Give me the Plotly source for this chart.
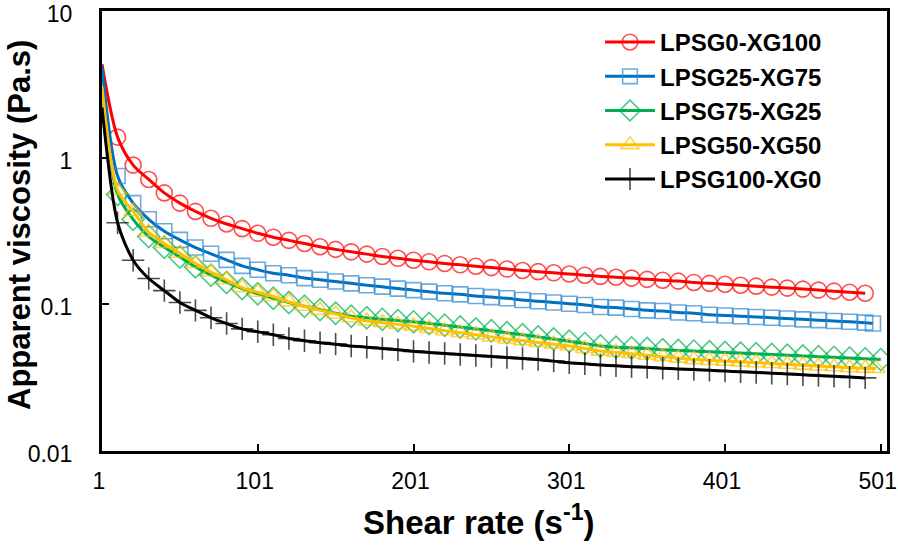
import plotly.graph_objects as go

# shear rate (s-1) at each measured point
x_common = [1, 11, 21, 31, 41, 51, 61, 71, 81, 91, 101, 111, 121, 131, 141, 151,
            161, 171, 181, 191, 201, 211, 221, 231, 241, 251, 261, 271, 281, 291,
            301, 311, 321, 331, 341, 351, 361, 371, 381, 391, 401, 411, 421, 431,
            441, 451, 461, 471, 481, 491]

# apparent viscosity (Pa.s)
lpsg0_xg100 = [4.33, 1.38, 0.89, 0.71, 0.575, 0.49, 0.43, 0.386, 0.353, 0.328,
               0.305, 0.287, 0.273, 0.26, 0.247, 0.237, 0.228, 0.22, 0.212, 0.206,
               0.2, 0.195, 0.19, 0.186, 0.182, 0.178, 0.174, 0.17, 0.167, 0.164,
               0.161, 0.158, 0.155, 0.153, 0.151, 0.148, 0.146, 0.144, 0.141, 0.139,
               0.137, 0.135, 0.133, 0.131, 0.129, 0.127, 0.125, 0.123, 0.121, 0.119]

lpsg25_xg75 = [4.17, 0.75, 0.49, 0.38, 0.315, 0.275, 0.244, 0.221, 0.201, 0.183,
               0.172, 0.163, 0.158, 0.151, 0.147, 0.143, 0.139, 0.135, 0.132, 0.128,
               0.125, 0.122, 0.119, 0.117, 0.114, 0.112, 0.11, 0.107, 0.105, 0.103,
               0.101, 0.099, 0.096, 0.095, 0.093, 0.091, 0.09, 0.088, 0.087, 0.085,
               0.084, 0.083, 0.082, 0.081, 0.08, 0.079, 0.078, 0.077, 0.076, 0.075,
               0.074]
x_lpsg25 = x_common + [496]

lpsg75_xg25 = [2.9, 0.56, 0.38, 0.29, 0.245, 0.21, 0.18, 0.158, 0.141, 0.128,
               0.118, 0.11, 0.103, 0.097, 0.092, 0.087, 0.083, 0.081, 0.079, 0.0775,
               0.076, 0.074, 0.072, 0.07, 0.068, 0.066, 0.064, 0.062, 0.06, 0.058,
               0.056, 0.054, 0.052, 0.051, 0.0505, 0.05, 0.049, 0.0485, 0.048, 0.0475,
               0.047, 0.0465, 0.046, 0.0455, 0.045, 0.0445, 0.044, 0.0435, 0.043, 0.0425,
               0.042]
x_lpsg75 = x_common + [501]

lpsg50_xg50 = [3.05, 0.6, 0.43, 0.31, 0.26, 0.223, 0.19, 0.166, 0.147, 0.13,
               0.121, 0.113, 0.104, 0.097, 0.091, 0.086, 0.081, 0.077, 0.075, 0.073,
               0.071, 0.0685, 0.066, 0.064, 0.062, 0.06, 0.058, 0.0565, 0.055, 0.0535,
               0.052, 0.05, 0.048, 0.047, 0.046, 0.045, 0.044, 0.043, 0.042, 0.0415,
               0.041, 0.0405, 0.04, 0.0395, 0.039, 0.0385, 0.038, 0.0375, 0.037, 0.0367,
               0.0365]
x_lpsg50 = x_common + [498]

lpsg100_xg0 = [2.2, 0.36, 0.2, 0.15, 0.124, 0.103, 0.091, 0.081, 0.074, 0.068,
               0.065, 0.062, 0.0585, 0.0565, 0.0548, 0.0535, 0.052, 0.051, 0.05, 0.049,
               0.0478, 0.047, 0.0462, 0.0455, 0.0448, 0.0441, 0.0434, 0.0427, 0.042, 0.041,
               0.04, 0.0393, 0.0386, 0.0381, 0.0376, 0.0372, 0.0367, 0.0363, 0.0359, 0.0355,
               0.0351, 0.0347, 0.0343, 0.0339, 0.0335, 0.0331, 0.0327, 0.0323, 0.0319, 0.0315]

x_ticks = [1, 101, 201, 301, 401, 501]
y_ticks = [0.01, 0.1, 1, 10]
y_ticktext = ["0.01", "0.1", "1", "10"]

series = [
    ("LPSG0-XG100", x_common, lpsg0_xg100, "#FF0000", "circle-open", "#FF0000", 16),
    ("LPSG25-XG75", x_lpsg25, lpsg25_xg75, "#0070C0", "square-open", "#2E88D0", 15),
    ("LPSG75-XG25", x_lpsg75, lpsg75_xg25, "#00B050", "diamond-open", "#00B050", 17),
    ("LPSG50-XG50", x_lpsg50, lpsg50_xg50, "#FFC000", "triangle-up-open", "#FFC000", 16),
    ("LPSG100-XG0", x_common, lpsg100_xg0, "#000000", "cross-thin-open", "#000000", 16),
]

fig = go.Figure()
for name, xs, ys, col, sym, mcol, ms in series:
    sizes = [0] + [ms] * (len(xs) - 1)  # no marker drawn on the first point
    fig.add_trace(go.Scatter(
        x=xs, y=ys, name=name, mode="lines+markers",
        line=dict(color=col, width=3, shape="spline", smoothing=0.8),
        marker=dict(symbol=sym, size=sizes, color=mcol,
                    line=dict(color=mcol, width=1.6)),
    ))

W, H = 898, 545
L, R, T, B = 102, 11, 11, 94
pw, ph = W - L - R, H - T - B

font = "Liberation Sans, Arial, sans-serif"
fig.update_layout(
    width=W, height=H,
    margin=dict(l=L, r=R, t=T, b=B, autoexpand=False),
    paper_bgcolor="white", plot_bgcolor="white",
    font=dict(family=font, color="black", size=23),
    showlegend=True,
    legend=dict(x=(600 - L) / pw, y=1 - (20 - T) / ph, xanchor="left", yanchor="top",
                font=dict(family=font, size=24, color="black", weight="bold"),
                itemwidth=50, bgcolor="rgba(0,0,0,0)", tracegroupgap=0),
)
fig.update_xaxes(
    range=[1, 505], tickvals=x_ticks, ticks="inside", ticklen=7, tickwidth=2,
    tickcolor="black", showline=True, linecolor="black", linewidth=3, mirror=True,
    showgrid=False, zeroline=False, ticklabelstandoff=7, automargin=False,
    ticklabeloverflow="allow", ticklabelshift=-3, tickfont=dict(size=23),
)
fig.update_yaxes(
    type="log", range=[-2, 1], tickvals=y_ticks, ticktext=y_ticktext,
    ticks="inside", ticklen=7, tickwidth=2, tickcolor="black",
    showline=True, linecolor="black", linewidth=3, mirror=True,
    showgrid=False, zeroline=False, ticklabelstandoff=22, automargin=False,
    ticklabeloverflow="allow", ticklabelshift=3, tickfont=dict(size=23),
)

# axis titles
fig.add_annotation(text="<b>Shear rate (s<sup>-1</sup>)</b>", xref="paper", yref="paper",
                   x=(478 - L) / pw, y=-(520 - (T + ph)) / ph, showarrow=False,
                   xanchor="center", yanchor="middle", font=dict(size=33))
fig.add_annotation(text="<b>Apparent viscosity (Pa.s)</b>", xref="paper", yref="paper",
                   x=-(L - 19) / pw, y=1 - (225 - T) / ph, showarrow=False,
                   textangle=-90, xanchor="center", yanchor="middle", font=dict(size=31))

# drop the default 8px page margin so the figure sits at the window corner
fig.write_html("out.html", config={"displayModeBar": False},
               post_script="document.body.style.margin='0';")
